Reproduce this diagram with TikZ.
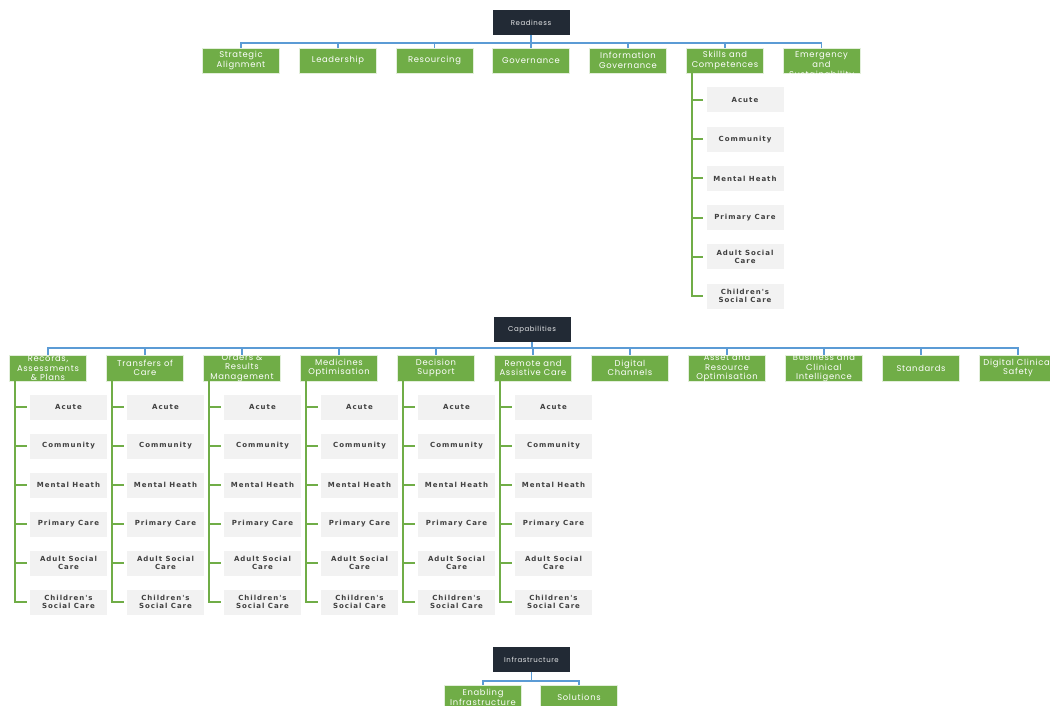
\documentclass[tikz,border=0pt]{standalone}
\usepackage{fontspec}
\newfontfamily\grnfnt[LetterSpace=8]{Poppins}
\newfontfamily\subfnt[LetterSpace=14]{DejaVu Sans}
\definecolor{navy}{HTML}{222A35}
\definecolor{grn}{HTML}{70AD47}
\definecolor{blu}{HTML}{5B9BD5}
\definecolor{lgr}{HTML}{F2F2F2}
\definecolor{dtx}{HTML}{404040}
\tikzset{
 darkbox/.style={fill=navy, minimum width=77pt, minimum height=25pt, inner sep=0pt, text=white!88!navy, font=\grnfnt\fontsize{7}{8}\selectfont},
 gbox/.style={fill=grn, draw=white!80!grn, line width=0.6pt, minimum width=77pt, minimum height=25pt, inner sep=0pt, label={[gtext]center:#1}},
 gtext/.style={text=white, align=center, font=\grnfnt\fontsize{8.4}{9.6}\selectfont, inner sep=0pt},
 sbox/.style={fill=lgr, minimum width=77pt, minimum height=25pt, inner sep=0pt, align=center, text=dtx, font=\subfnt\bfseries\fontsize{7}{8.5}\selectfont},
 bus/.style={draw=blu, line width=1.8pt},
 gline/.style={draw=grn, line width=2.2pt, shorten >=3pt},
}
\begin{document}
\begin{tikzpicture}[x=1pt,y=-1pt]
\fill[white] (0,0) rectangle (1050,706);
\useasboundingbox (0,0) rectangle (1050,706);

% ---------- Readiness ----------
\node[darkbox] (R) at (531,22.5) {Readiness};
\node[gbox={Strategic\\Alignment}] (r1) at (241,60.5) {};
\node[gbox={Leadership}] (r2) at (338,60.5) {};
\node[gbox={Resourcing}] (r3) at (434.5,60.5) {};
\node[gbox={Governance}] (r4) at (531,60.5) {};
\node[gbox={Information\\Governance}] (r5) at (628,60.5) {};
\node[gbox={Skills and\\Competences}] (r6) at (725,60.5) {};
\node[gbox={Climate\\Emergency\\and\\Sustainability}] (r7) at (821.5,60.5) {};
\foreach \k in {1,...,7}{\draw[bus] (R.south) -- ++(0,7.7) -| (r\k.north);}

\foreach \t [count=\j from 0] in {Acute, Community, Mental Heath, Primary Care, {Adult Social\\Care}, {Children's\\Social Care}}{
  \node[sbox] (sk\j) at (745,{100+39.2*\j}) {\t};
  \draw[gline] ([xshift=6pt]r6.south west) |- (sk\j.west);
}

% ---------- Capabilities ----------
\node[darkbox] (C) at (532,329.5) {Capabilities};
\node[gbox={Records{,}\\Assessments\\\& Plans}, minimum height=26pt] (c0) at (48,368) {};
\node[gbox={Transfers of\\Care}, minimum height=26pt] (c1) at (145,368) {};
\node[gbox={Orders \&\\Results\\Management}, minimum height=26pt] (c2) at (242,368) {};
\node[gbox={Medicines\\Optimisation}, minimum height=26pt] (c3) at (339,368) {};
\node[gbox={Decision\\Support}, minimum height=26pt] (c4) at (436,368) {};
\node[gbox={Remote and\\Assistive Care}, minimum height=26pt] (c5) at (533,368) {};
\node[gbox={Digital\\Channels}, minimum height=26pt] (c6) at (630,368) {};
\node[gbox={Asset and\\Resource\\Optimisation}, minimum height=26pt] (c7) at (727,368) {};
\node[gbox={Business and\\Clinical\\Intelligence}, minimum height=26pt] (c8) at (824,368) {};
\node[gbox={Standards}, minimum height=26pt] (c9) at (921,368) {};
\node[gbox={Digital Clinical\\Safety}, minimum height=26pt] (c10) at (1018,368) {};
\foreach \k in {0,...,10}{\draw[bus] (C.south) -- ++(0,6) -| (c\k.north);}

\foreach \i in {0,...,5}{
  \foreach \t [count=\j from 0] in {Acute, Community, Mental Heath, Primary Care, {Adult Social\\Care}, {Children's\\Social Care}}{
    \node[sbox] (sub\i\j) at ({68.5+97*\i},{407+39*\j}) {\t};
    \draw[gline] ([xshift=6pt]c\i.south west) |- (sub\i\j.west);
  }
}

% ---------- Infrastructure ----------
\node[darkbox] (I) at (531.5,659.5) {Infrastructure};
\node[gbox={Enabling\\Infrastructure}] (i1) at (483,697.5) {};
\node[gbox={Solutions}] (i2) at (579,697.5) {};
\foreach \k in {1,2}{\draw[bus] (I.south) -- ++(0,9) -| (i\k.north);}
\end{tikzpicture}
\end{document}
